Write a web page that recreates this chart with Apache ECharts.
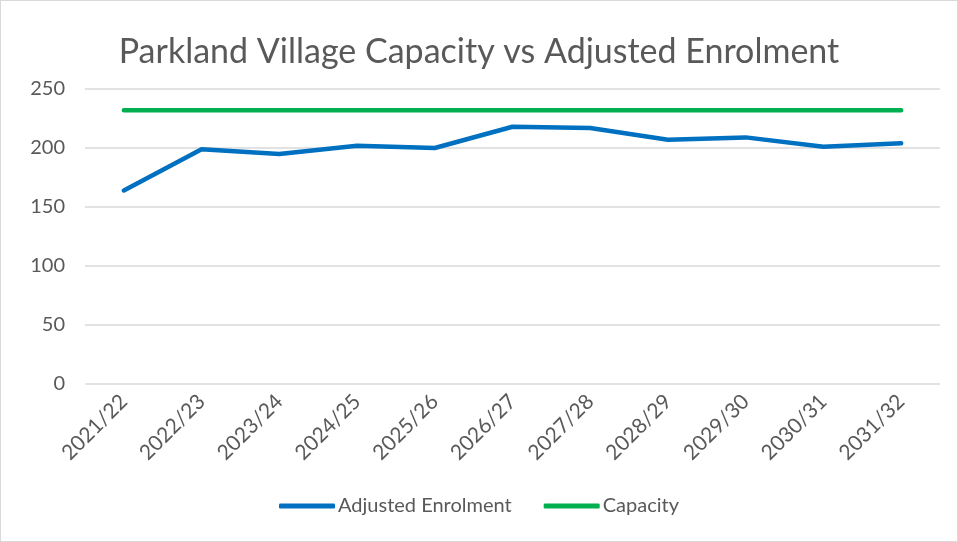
<!DOCTYPE html>
<html>
<head>
<meta charset="utf-8">
<script src="https://cdn.jsdelivr.net/npm/echarts@6/dist/echarts.min.js"></script>
<style>
  html, body { margin: 0; padding: 0; background: #fff; }
  #chart { width: 958px; height: 542px; box-sizing: border-box; border: 1px solid #d9d9d9; }
</style>
</head>
<body>
<div id="chart"></div>
<script>
// school years on the x axis
var years = ['2021/22', '2022/23', '2023/24', '2024/25', '2025/26', '2026/27',
  '2027/28', '2028/29', '2029/30', '2030/31', '2031/32'];
var adjustedEnrolment = [164, 199, 195, 202, 200, 218, 217, 207, 209, 201, 204];
var capacity = [232, 232, 232, 232, 232, 232, 232, 232, 232, 232, 232];

var font = 'Lato, "Open Sans", sans-serif';
var chart = echarts.init(document.getElementById('chart'));

chart.setOption({
  animation: false,
  title: {
    text: 'Parkland Village Capacity vs Adjusted Enrolment',
    left: 'center',
    top: 29,
    textStyle: { fontFamily: font, fontSize: 34, fontWeight: 'normal', color: '#595959' }
  },
  legend: {
    bottom: 20,
    left: 'center',
    itemWidth: 56,
    itemHeight: 5,
    itemGap: 32,
    icon: 'roundRect',
    textStyle: { fontFamily: font, fontSize: 20, color: '#595959', padding: [0, 0, 0, -2] },
    data: ['Adjusted Enrolment', 'Capacity']
  },
  grid: { left: 84, right: 17, top: 88, bottom: 157 },
  xAxis: {
    type: 'category',
    data: years,
    boundaryGap: true,
    axisLine: { show: false },
    axisTick: { show: false },
    axisLabel: { rotate: 45, fontFamily: font, fontSize: 21, color: '#595959', margin: 14, interval: 0 }
  },
  yAxis: {
    type: 'value',
    min: 0,
    max: 250,
    interval: 50,
    axisLabel: { fontFamily: font, fontSize: 20, color: '#595959', margin: 20 },
    splitLine: { lineStyle: { color: '#d9d9d9', width: 1.5 } }
  },
  series: [
    {
      name: 'Adjusted Enrolment',
      type: 'line',
      data: adjustedEnrolment,
      symbol: 'none',
      lineStyle: { color: '#0070c0', width: 4.5, cap: 'round' },
      itemStyle: { color: '#0070c0' }
    },
    {
      name: 'Capacity',
      type: 'line',
      data: capacity,
      symbol: 'none',
      lineStyle: { color: '#00b050', width: 4.5, cap: 'round' },
      itemStyle: { color: '#00b050' }
    }
  ]
});
</script>
</body>
</html>
